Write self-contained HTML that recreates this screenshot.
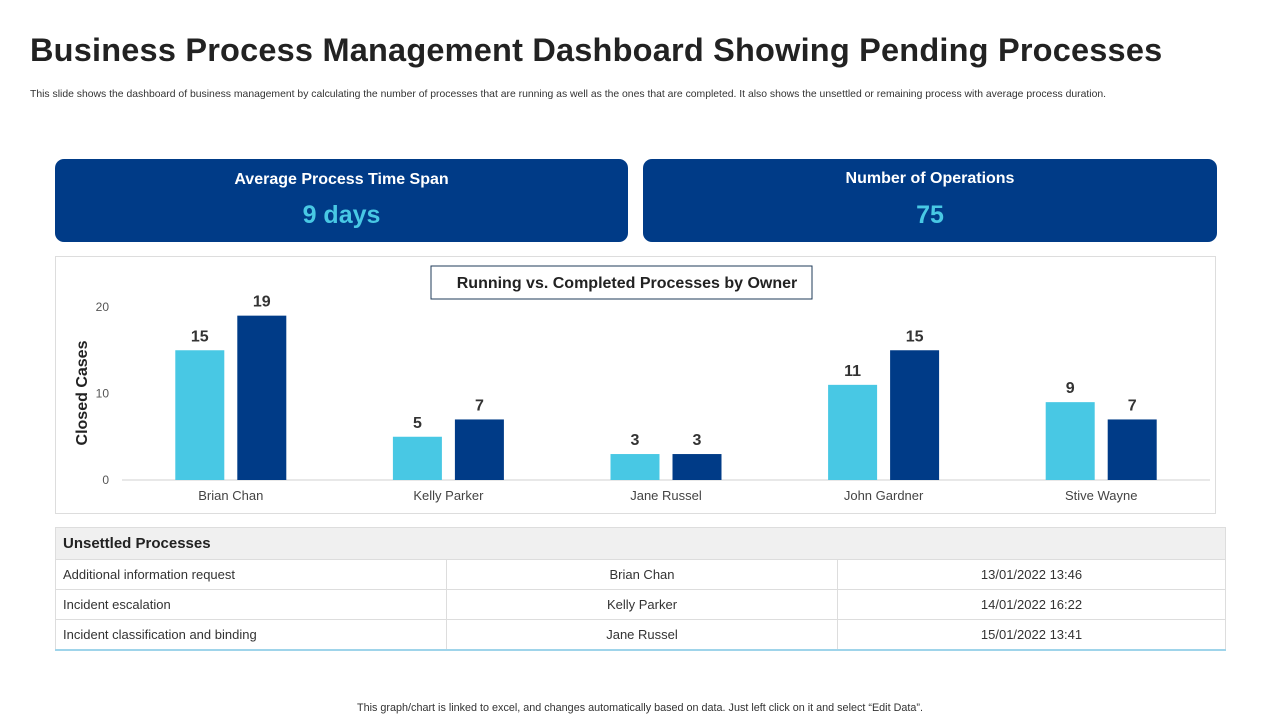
<!DOCTYPE html>
<html><head><meta charset="utf-8"><style>
body{margin:0;width:1280px;height:720px;background:#fff;font-family:"Liberation Sans",sans-serif;position:relative;overflow:hidden}
.abs{position:absolute}
h1{position:absolute;left:30px;top:32px;margin:0;font-size:32.5px;font-weight:bold;color:#222;letter-spacing:0.2px}
.sub{left:30px;top:89px;font-size:10.4px;color:#333}
.card{background:#003b87;border-radius:9px;color:#fff;text-align:center}
.card .t{font-size:16px;font-weight:bold;margin-top:12px}
.card .v{font-size:25px;font-weight:bold;color:#48c8e4;margin-top:12px}
table{border-collapse:collapse;font-size:13px;color:#333}
td{border:1px solid #ddd;height:29px;padding:0 7px}
</style></head><body>
<h1>Business Process Management Dashboard Showing Pending Processes</h1>
<div class="abs sub">This slide shows the dashboard of business management by calculating the number of processes that are running as well as the ones that are completed. It also shows the unsettled or remaining process with average process duration.</div>
<div class="abs card" style="left:55px;top:159px;width:573px;height:83px"><div class="t">Average Process Time Span</div><div class="v">9 days</div></div>
<div class="abs card" style="left:643px;top:159px;width:574px;height:83px"><div class="t" style="margin-top:11px">Number of Operations</div><div class="v" style="margin-top:13px">75</div></div>
<div class="abs" style="left:55px;top:256px;width:1159px;height:256px;border:1px solid #ddd"></div>
<svg class="abs" style="left:0;top:0" width="1280" height="720" id="chart">
<rect x="431" y="266" width="381" height="33" fill="#fff" stroke="#1f3b5a" stroke-width="1"/>
<text x="627" y="288" text-anchor="middle" font-size="16" font-weight="bold" fill="#222">Running vs. Completed Processes  by Owner</text>
<text transform="translate(87,393) rotate(-90)" text-anchor="middle" font-size="16" font-weight="bold" fill="#222">Closed Cases</text>
<line x1="122" y1="480" x2="1210" y2="480" stroke="#d0d0d0"/>
</svg>
<table class="abs" style="left:55px;top:527px;width:1171px;border-bottom:2px solid #9fd4ea">
<tr style="background:#f0f0f0"><td colspan="3" style="font-weight:bold;font-size:15px;height:31px;color:#222">Unsettled Processes</td></tr>
<tr><td style="width:376px">Additional information request</td><td style="text-align:center;width:376px">Brian Chan</td><td style="text-align:center">13/01/2022  13:46</td></tr>
<tr><td>Incident escalation</td><td style="text-align:center">Kelly Parker</td><td style="text-align:center">14/01/2022  16:22</td></tr>
<tr><td>Incident classification  and binding</td><td style="text-align:center">Jane Russel</td><td style="text-align:center">15/01/2022  13:41</td></tr>
</table>
<div class="abs" style="left:0;width:1280px;top:702px;text-align:center;font-size:10.8px;color:#333">This graph/chart is linked to excel, and changes automatically based on data. Just left click on it and select “Edit Data”.</div>
<script>
const categories=["Brian Chan","Kelly Parker","Jane Russel","John Gardner","Stive Wayne"];
const running=[15,5,3,11,9];
const completed=[19,7,3,15,7];
const yTicks=[0,10,20];
const svg=document.getElementById('chart');
const NS='http://www.w3.org/2000/svg';
const x0=122,x1=1210,base=480,pxPer=8.65;
const y=v=>base-v*pxPer;
const band=(x1-x0)/categories.length;
const cx=i=>x0+band*(i+0.5);
function mk(tag,attrs,txt){const e=document.createElementNS(NS,tag);for(const k in attrs)e.setAttribute(k,attrs[k]);if(txt!==undefined)e.textContent=txt;svg.appendChild(e);return e;}
yTicks.forEach(t=>{
 const e=mk('text',{x:109,y:y(t)+4,'text-anchor':'end','font-size':12,fill:'#555'},t);
 
 
});
categories.forEach((c,i)=>{
 const e=mk('text',{x:cx(i),y:500,'text-anchor':'middle','font-size':13,fill:'#444'},c);
 
 
 [[running[i],'#48c8e4',-55.5,'bar-running'],[completed[i],'#003b87',6.5,'bar-completed']].forEach(([v,col,off,nm])=>{
  const r=mk('rect',{x:cx(i)+off,y:y(v),width:49,height:v*pxPer,fill:col});
  
  
  const l=mk('text',{x:cx(i)+off+24.5,y:y(v)-9,'text-anchor':'middle','font-size':16,'font-weight':'bold',fill:'#333'},v);
  
  
 });
});
</script>
</body></html>
